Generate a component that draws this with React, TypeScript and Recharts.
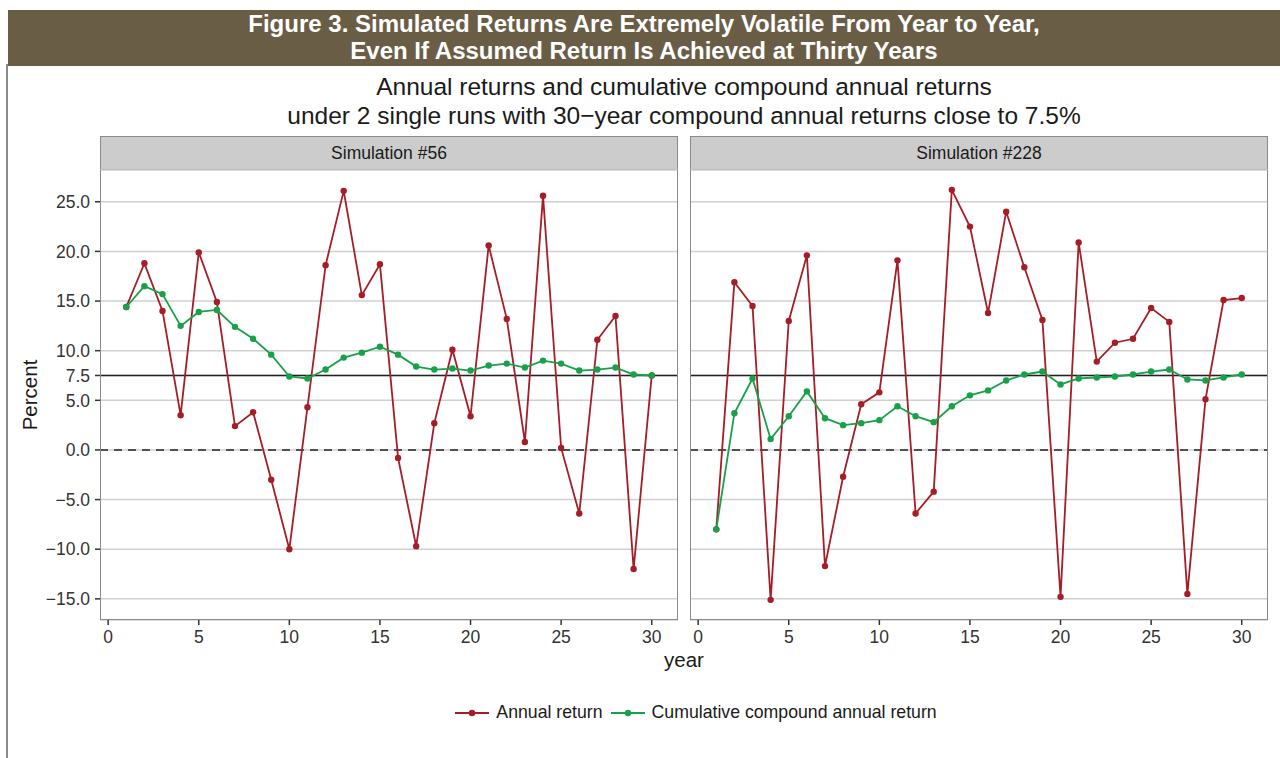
import React from 'react';
import { LineChart, Line, XAxis, YAxis, CartesianGrid, ReferenceLine } from 'recharts';

const years = [1, 2, 3, 4, 5, 6, 7, 8, 9, 10, 11, 12, 13, 14, 15, 16, 17, 18, 19, 20, 21, 22, 23, 24, 25, 26, 27, 28, 29, 30];

const sim56Annual = [14.4, 18.8, 14.0, 3.5, 19.9, 14.9, 2.4, 3.8, -3.0, -10.0, 4.3, 18.6, 26.1, 15.6, 18.7, -0.8, -9.7, 2.7, 10.1, 3.4, 20.6, 13.2, 0.8, 25.6, 0.2, -6.4, 11.1, 13.5, -12.0, 7.5];
const sim56Cumulative = [14.4, 16.5, 15.7, 12.5, 13.9, 14.1, 12.4, 11.2, 9.6, 7.4, 7.2, 8.1, 9.3, 9.8, 10.4, 9.6, 8.4, 8.1, 8.2, 8.0, 8.5, 8.7, 8.3, 9.0, 8.7, 8.0, 8.1, 8.3, 7.6, 7.5];

const sim228Annual = [-8.0, 16.9, 14.5, -15.1, 13.0, 19.6, -11.7, -2.7, 4.6, 5.8, 19.1, -6.4, -4.2, 26.2, 22.5, 13.8, 24.0, 18.4, 13.1, -14.8, 20.9, 8.9, 10.8, 11.2, 14.3, 12.9, -14.5, 5.1, 15.1, 15.3];
const sim228Cumulative = [-8.0, 3.7, 7.2, 1.1, 3.4, 5.9, 3.2, 2.5, 2.7, 3.0, 4.4, 3.4, 2.8, 4.4, 5.5, 6.0, 7.0, 7.6, 7.9, 6.6, 7.2, 7.3, 7.4, 7.6, 7.9, 8.1, 7.1, 7.0, 7.3, 7.6];

const xTicks = [0, 5, 10, 15, 20, 25, 30];
const yTicks = [-15, -10, -5, 0, 5, 7.5, 10, 15, 20, 25];
const seriesNames = ['Annual return', 'Cumulative compound annual return'];
const panelTitles = ['Simulation #56', 'Simulation #228'];
const assumedReturn = 7.5;

const RED = '#a51d26';
const GREEN = '#18a04a';
const FONT = '"Liberation Sans", Arial, sans-serif';

const toRows = (annual: number[], cumulative: number[]) =>
  years.map((year, i) => ({ year, annual: annual[i], cumulative: cumulative[i] }));

const fmtY = (v: number) => v.toFixed(1).replace('-', '\u2212');

type PanelProps = {
  title: string;
  annual: number[];
  cumulative: number[];
  left: number;
  width: number;
  showY: boolean;
};

function Panel({ title, annual, cumulative, left, width, showY }: PanelProps) {
  const yAxisWidth = showY ? 100 : 0;
  const plotLeft = left + yAxisWidth;
  const plotWidth = width - yAxisWidth - 2;
  return (
    <>
      <div
        style={{
          position: 'absolute',
          left: plotLeft,
          top: 136,
          width: plotWidth,
          height: 34,
          boxSizing: 'border-box',
          background: '#cccccc',
          border: '1px solid #8a8a8a',
          display: 'flex',
          alignItems: 'center',
          justifyContent: 'center',
          fontSize: 17.5,
          color: '#1a1a1a',
        }}
      >
        {title}
      </div>
      <div style={{ position: 'absolute', left, top: 0 }}>
        <LineChart
          width={width}
          height={650}
          data={toRows(annual, cumulative)}
          margin={{ top: 170, right: 2, left: 0, bottom: 0 }}
        >
          <CartesianGrid vertical={false} stroke="#d0d0d0" strokeWidth={1.5} />
          <XAxis
            type="number"
            dataKey="year"
            domain={[-0.45, 31.45]}
            ticks={xTicks}
            allowDataOverflow
            axisLine={false}
            tickSize={5}
            tickMargin={6}
            tickLine={{ stroke: '#333', strokeWidth: 1.5 }}
            tick={{ fill: '#333', fontSize: 17.5, fontFamily: FONT }}
            height={30}
            interval={0}
          />
          <YAxis
            type="number"
            domain={[-17.13, 28.2]}
            ticks={yTicks}
            allowDataOverflow
            hide={!showY}
            width={yAxisWidth}
            axisLine={false}
            tickSize={5}
            tickMargin={5}
            tickLine={{ stroke: '#333', strokeWidth: 1.5 }}
            tick={{ fill: '#333', fontSize: 17.5, fontFamily: FONT }}
            tickFormatter={fmtY}
            interval={0}
          />
          <ReferenceLine y={assumedReturn} stroke="#222" strokeWidth={1.6} />
          <ReferenceLine y={0} stroke="#222" strokeWidth={1.6} strokeDasharray="8 6" />
          <Line
            type="linear"
            dataKey="annual"
            name={seriesNames[0]}
            stroke={RED}
            strokeWidth={1.8}
            dot={{ r: 3.2, fill: RED, stroke: 'none' }}
            isAnimationActive={false}
          />
          <Line
            type="linear"
            dataKey="cumulative"
            name={seriesNames[1]}
            stroke={GREEN}
            strokeWidth={1.8}
            dot={{ r: 3.2, fill: GREEN, stroke: 'none' }}
            isAnimationActive={false}
          />
        </LineChart>
      </div>
      <div
        style={{
          position: 'absolute',
          left: plotLeft,
          top: 170,
          width: plotWidth,
          height: 450,
          boxSizing: 'border-box',
          border: '1px solid #8a8a8a',
          borderTop: 'none',
          pointerEvents: 'none',
        }}
      />
    </>
  );
}

function LegendItem({ color, label }: { color: string; label: string }) {
  return (
    <span style={{ display: 'inline-flex', alignItems: 'center', marginRight: 8 }}>
      <svg width={34} height={10} style={{ marginRight: 7 }}>
        <line x1={0} y1={5} x2={34} y2={5} stroke={color} strokeWidth={1.8} />
        <circle cx={17} cy={5} r={3.2} fill={color} />
      </svg>
      {label}
    </span>
  );
}

export default function App() {
  return (
    <div
      style={{
        position: 'absolute',
        left: 0,
        top: 0,
        width: 1280,
        height: 758,
        background: '#fff',
        fontFamily: FONT,
        overflow: 'hidden',
      }}
    >
      <div style={{ position: 'absolute', left: 6, top: 64, width: 1.5, height: 700, background: '#8a8a8a' }} />
      <div
        style={{
          position: 'absolute',
          left: 8,
          top: 10,
          width: 1272,
          height: 56,
          background: '#6a5d46',
          color: '#fff',
          fontWeight: 'bold',
          fontSize: 24,
          lineHeight: '26.7px',
          textAlign: 'center',
          paddingTop: 1,
          boxSizing: 'border-box',
        }}
      >
        <div>Figure 3. Simulated Returns Are Extremely Volatile From Year to Year,</div>
        <div>Even If Assumed Return Is Achieved at Thirty Years</div>
      </div>
      <div
        style={{
          position: 'absolute',
          left: 100,
          top: 73,
          width: 1168,
          textAlign: 'center',
          fontSize: 24.5,
          lineHeight: '28.7px',
          color: '#1a1a1a',
        }}
      >
        <div>Annual returns and cumulative compound annual returns</div>
        <div>under 2 single runs with 30{'\u2212'}year compound annual returns close to 7.5%</div>
      </div>

      <Panel title={panelTitles[0]} annual={sim56Annual} cumulative={sim56Cumulative} left={0} width={680} showY />
      <Panel title={panelTitles[1]} annual={sim228Annual} cumulative={sim228Cumulative} left={690} width={580} showY={false} />

      <div
        style={{
          position: 'absolute',
          left: 30,
          top: 395,
          transform: 'translate(-50%, -50%) rotate(-90deg)',
          fontSize: 20.5,
          color: '#1a1a1a',
          whiteSpace: 'nowrap',
        }}
      >
        Percent
      </div>
      <div
        style={{
          position: 'absolute',
          left: 100,
          top: 648,
          width: 1168,
          textAlign: 'center',
          fontSize: 20.5,
          color: '#1a1a1a',
        }}
      >
        year
      </div>
      <div
        style={{
          position: 'absolute',
          left: 110,
          top: 702,
          width: 1180,
          display: 'flex',
          justifyContent: 'center',
          fontSize: 17.7,
          color: '#1a1a1a',
        }}
      >
        <LegendItem color={RED} label={seriesNames[0]} />
        <LegendItem color={GREEN} label={seriesNames[1]} />
      </div>
    </div>
  );
}
